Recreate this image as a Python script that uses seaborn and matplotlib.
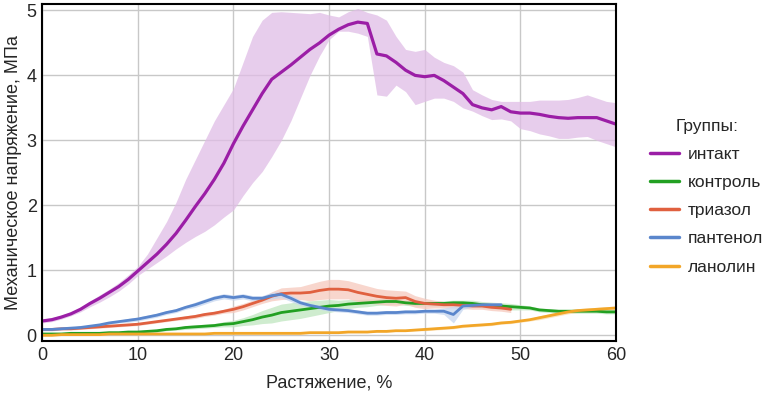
import numpy as np
import pandas as pd
import matplotlib
matplotlib.use('Agg')
import matplotlib.pyplot as plt
import seaborn as sns

# деформация, %
strain = list(range(61))

groups = ['интакт', 'контроль', 'триазол', 'пантенол', 'ланолин']
colors = ['#9b1ea6', '#22a022', '#e0603f', '#5a86cc', '#f2a628']
bands = ['#e0bde6', '#bfe6bf', '#f6c9bd', '#c6d6f0', '#fadcab']

nan = np.nan

intact = [0.22, 0.24, 0.28, 0.33, 0.40, 0.49, 0.57, 0.66, 0.75, 0.86,
          0.99, 1.12, 1.25, 1.40, 1.57, 1.77, 1.98, 2.18, 2.40, 2.65,
          2.95, 3.22, 3.47, 3.72, 3.94, 4.05, 4.16, 4.28, 4.40, 4.50,
          4.62, 4.71, 4.78, 4.82, 4.80, 4.33, 4.30, 4.20, 4.08, 4.00,
          3.98, 4.00, 3.92, 3.82, 3.72, 3.55, 3.50, 3.47, 3.52, 3.44,
          3.42, 3.42, 3.40, 3.37, 3.35, 3.34, 3.35, 3.35, 3.35, 3.30, 3.25]
intact_low = [0.19, 0.21, 0.25, 0.30, 0.36, 0.44, 0.51, 0.59, 0.68, 0.79,
              0.92, 1.02, 1.12, 1.22, 1.33, 1.43, 1.52, 1.60, 1.70, 1.82,
              1.93, 2.15, 2.35, 2.52, 2.75, 3.00, 3.30, 3.65, 4.00, 4.30,
              4.55, 4.68, 4.68, 4.65, 4.60, 3.70, 3.68, 3.85, 3.75, 3.55,
              3.60, 3.65, 3.65, 3.60, 3.50, 3.45, 3.38, 3.32, 3.33, 3.30,
              3.18, 3.15, 3.10, 3.07, 3.03, 3.03, 3.05, 3.06, 3.00, 2.95, 2.90]
intact_high = [0.25, 0.27, 0.31, 0.36, 0.43, 0.53, 0.62, 0.71, 0.81, 0.93,
               1.06, 1.25, 1.50, 1.75, 2.05, 2.40, 2.70, 3.00, 3.30, 3.55,
               3.80, 4.20, 4.60, 4.85, 4.97, 4.98, 4.97, 4.96, 4.95, 4.97,
               4.93, 4.90, 4.98, 5.03, 4.97, 4.93, 4.85, 4.60, 4.40, 4.37,
               4.40, 4.28, 4.20, 4.15, 4.05, 3.78, 3.70, 3.63, 3.60, 3.60,
               3.60, 3.60, 3.62, 3.62, 3.62, 3.63, 3.66, 3.70, 3.65, 3.60, 3.58]

control = [0.02, 0.02, 0.02, 0.03, 0.03, 0.03, 0.03, 0.04, 0.04, 0.05,
           0.05, 0.06, 0.07, 0.09, 0.10, 0.12, 0.13, 0.14, 0.15, 0.17,
           0.18, 0.21, 0.24, 0.28, 0.31, 0.35, 0.37, 0.39, 0.41, 0.43,
           0.45, 0.46, 0.48, 0.49, 0.50, 0.51, 0.52, 0.52, 0.50, 0.49,
           0.49, 0.49, 0.49, 0.50, 0.50, 0.49, 0.47, 0.46, 0.45, 0.44,
           0.43, 0.42, 0.39, 0.38, 0.37, 0.37, 0.37, 0.37, 0.37, 0.36, 0.36]
control_sd = [0.02, 0.02, 0.02, 0.02, 0.02, 0.02, 0.02, 0.02, 0.02, 0.02,
              0.02, 0.02, 0.02, 0.02, 0.02, 0.03, 0.03, 0.03, 0.03, 0.04,
              0.05, 0.06, 0.08, 0.10, 0.12, 0.13, 0.13, 0.13, 0.12, 0.11,
              0.10, 0.08, 0.07, 0.06, 0.06, 0.05, 0.05, 0.04, 0.04, 0.04,
              0.04, 0.04, 0.04, 0.04, 0.04, 0.05, 0.05, 0.05, 0.05, 0.05,
              0.04, 0.03, 0.03, 0.03, 0.03, 0.03, 0.03, 0.03, 0.03, 0.03, 0.03]

triazol = [0.09, 0.09, 0.10, 0.10, 0.11, 0.12, 0.13, 0.14, 0.15, 0.16,
           0.17, 0.19, 0.21, 0.23, 0.25, 0.27, 0.29, 0.32, 0.34, 0.37,
           0.40, 0.44, 0.49, 0.54, 0.60, 0.64, 0.65, 0.65, 0.66, 0.69,
           0.71, 0.71, 0.70, 0.66, 0.63, 0.60, 0.58, 0.57, 0.58, 0.52,
           0.49, 0.48, 0.47, 0.47, 0.46, 0.45, 0.45, 0.43, 0.42, 0.40,
           nan, nan, nan, nan, nan, nan, nan, nan, nan, nan, nan]
triazol_sd = [0.02, 0.02, 0.02, 0.02, 0.02, 0.02, 0.02, 0.02, 0.02, 0.02,
              0.02, 0.02, 0.02, 0.02, 0.02, 0.03, 0.03, 0.03, 0.03, 0.03,
              0.05, 0.05, 0.05, 0.05, 0.07, 0.09, 0.09, 0.10, 0.13, 0.14,
              0.15, 0.15, 0.14, 0.14, 0.13, 0.12, 0.12, 0.12, 0.10, 0.09,
              0.08, 0.06, 0.05, 0.05, 0.05, 0.05, 0.05, 0.05, 0.05, 0.05,
              nan, nan, nan, nan, nan, nan, nan, nan, nan, nan, nan]

panthenol = [0.09, 0.09, 0.10, 0.11, 0.12, 0.14, 0.16, 0.19, 0.21, 0.23,
             0.25, 0.28, 0.31, 0.35, 0.38, 0.43, 0.47, 0.52, 0.57, 0.60,
             0.58, 0.60, 0.57, 0.57, 0.61, 0.63, 0.57, 0.50, 0.46, 0.43,
             0.40, 0.39, 0.38, 0.36, 0.34, 0.34, 0.35, 0.35, 0.36, 0.36,
             0.37, 0.37, 0.37, 0.32, 0.45, 0.46, 0.47, 0.47, 0.47, nan,
             nan, nan, nan, nan, nan, nan, nan, nan, nan, nan, nan]
panthenol_sd = [0.02, 0.02, 0.02, 0.02, 0.02, 0.02, 0.02, 0.02, 0.02, 0.03,
                0.03, 0.03, 0.03, 0.03, 0.03, 0.03, 0.04, 0.04, 0.04, 0.04,
                0.04, 0.04, 0.04, 0.04, 0.05, 0.05, 0.05, 0.04, 0.03, 0.03,
                0.03, 0.03, 0.03, 0.03, 0.03, 0.03, 0.03, 0.03, 0.03, 0.03,
                0.03, 0.03, 0.05, 0.13, 0.05, 0.03, 0.03, 0.03, 0.03, nan,
                nan, nan, nan, nan, nan, nan, nan, nan, nan, nan, nan]

lanolin = [0.00, 0.00, 0.01, 0.01, 0.01, 0.01, 0.01, 0.02, 0.02, 0.02,
           0.02, 0.02, 0.02, 0.02, 0.02, 0.02, 0.02, 0.02, 0.03, 0.03,
           0.03, 0.03, 0.03, 0.03, 0.03, 0.03, 0.03, 0.03, 0.04, 0.04,
           0.04, 0.04, 0.05, 0.05, 0.05, 0.06, 0.06, 0.07, 0.07, 0.08,
           0.09, 0.10, 0.11, 0.12, 0.14, 0.15, 0.16, 0.17, 0.19, 0.20,
           0.22, 0.24, 0.27, 0.30, 0.33, 0.36, 0.38, 0.39, 0.40, 0.41, 0.42]
lanolin_sd = [0.01, 0.01, 0.01, 0.01, 0.01, 0.01, 0.01, 0.01, 0.01, 0.01,
              0.01, 0.01, 0.01, 0.01, 0.01, 0.01, 0.01, 0.01, 0.01, 0.01,
              0.01, 0.01, 0.01, 0.01, 0.01, 0.01, 0.01, 0.01, 0.01, 0.01,
              0.01, 0.01, 0.01, 0.01, 0.01, 0.01, 0.01, 0.01, 0.01, 0.01,
              0.02, 0.02, 0.02, 0.02, 0.02, 0.02, 0.02, 0.02, 0.02, 0.02,
              0.02, 0.02, 0.03, 0.03, 0.03, 0.03, 0.03, 0.03, 0.03, 0.03, 0.03]

means = [intact, control, triazol, panthenol, lanolin]
lows = [np.array(intact_low)] + [np.array(m) - np.array(s) for m, s in
        [(control, control_sd), (triazol, triazol_sd), (panthenol, panthenol_sd), (lanolin, lanolin_sd)]]
highs = [np.array(intact_high)] + [np.array(m) + np.array(s) for m, s in
         [(control, control_sd), (triazol, triazol_sd), (panthenol, panthenol_sd), (lanolin, lanolin_sd)]]

# длинная таблица для seaborn
df = pd.concat([pd.DataFrame({'strain': strain, 'stress': m, 'group': g})
                for g, m in zip(groups, means)]).dropna()

sns.set_style('white')
plt.rcParams['font.family'] = ['Liberation Sans', 'DejaVu Sans']

fig, ax = plt.subplots(figsize=(7.68, 3.93), dpi=100)
fig.subplots_adjust(left=0.055, right=0.802, bottom=0.132, top=0.99)

for lo, hi, c in zip(lows, highs, bands):
    ax.fill_between(strain, lo, hi, color=c, alpha=0.75, lw=0)

sns.lineplot(data=df, x='strain', y='stress', hue='group', hue_order=groups,
             palette=colors, linewidth=2, errorbar=None, ax=ax)
ax.lines[0].set_linewidth(2.3)

ax.set_xlim(0, 60)
ax.set_ylim(-0.09, 5.1)
ax.set_xticks([0, 10, 20, 30, 40, 50, 60])
ax.set_yticks([0, 1, 2, 3, 4, 5])
ax.grid(True, color='#c8c8c8', lw=1)
ax.tick_params(length=0, labelsize=13, pad=4)
for s in ax.spines.values():
    s.set_color('black')
    s.set_linewidth(1.5)

ax.set_xlabel('Растяжение, %', fontsize=13, labelpad=8)
ax.set_ylabel('Механическое напряжение, МПа', fontsize=13, labelpad=3)

h, l = ax.get_legend_handles_labels()
for hh in h:
    hh.set_linewidth(2.5)
ax.legend(h, l, title='Группы:', loc='upper left', bbox_to_anchor=(0.835, 0.72),
          bbox_transform=fig.transFigure, frameon=False, fontsize=12.5,
          title_fontsize=12.5, handlelength=1.7, handletextpad=0.5,
          labelspacing=0.75, borderpad=0)

plt.savefig('out.png', dpi=100)
